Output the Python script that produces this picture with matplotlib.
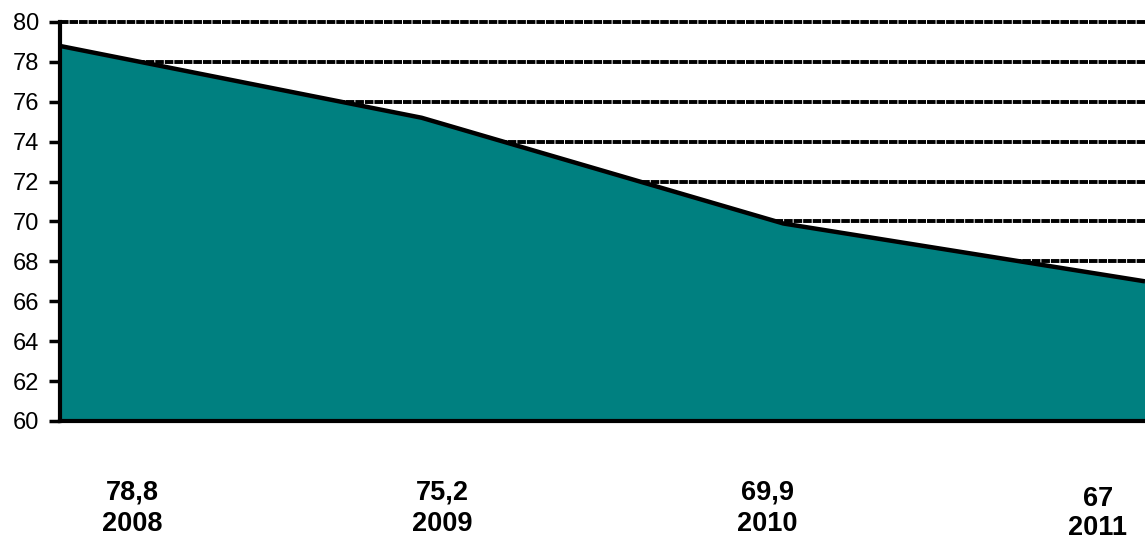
import matplotlib
matplotlib.use("Agg")
import matplotlib.pyplot as plt
from matplotlib.transforms import blended_transform_factory

years = ["2008", "2009", "2010", "2011"]
values = [78.8, 75.2, 69.9, 67.0]
value_labels = ["78,8", "75,2", "69,9", "67"]
y_ticks = list(range(60, 81, 2))

plt.rcParams["font.family"] = ["Liberation Sans", "DejaVu Sans"]

fig = plt.figure(figsize=(11.45, 5.41), dpi=100)
ax = fig.add_axes([60 / 1145, 1 - 421 / 541, 1 - 60 / 1145, (421 - 22) / 541])

x = list(range(len(years)))
ax.fill_between(x, values, 60, color="#008080", zorder=2, linewidth=0)
ax.plot(x, values, color="black", linewidth=3.2, zorder=3, solid_capstyle="butt")

ax.set_xlim(0, len(years) - 1)
ax.set_ylim(60, 80)
ax.set_yticks(y_ticks)
ax.set_xticks([])

for v in y_ticks[1:]:
    ax.axhline(v, color="black", linewidth=2.8, linestyle=(0, (2.2, 0.25)),
               zorder=1, clip_on=False)

for side in ("top", "right"):
    ax.spines[side].set_visible(False)
ax.spines["left"].set_linewidth(3)
ax.spines["bottom"].set_linewidth(3)
ax.spines["left"].set_zorder(4)
ax.spines["bottom"].set_zorder(4)
ax.tick_params(axis="y", direction="out", length=8, width=2.5, labelsize=17, pad=7)

# Category captions below the plot: value on top, year underneath
trans = blended_transform_factory(ax.transData, fig.transFigure)
label_x = [0.199, 1.056, 1.955, 2.870]
label_y_val = [1 - 493 / 541, 1 - 492 / 541, 1 - 492 / 541, 1 - 499 / 541]
label_y_year = [1 - 524 / 541, 1 - 524 / 541, 1 - 524 / 541, 1 - 528 / 541]
for lx, yv, yy, vl, yr in zip(label_x, label_y_val, label_y_year, value_labels, years):
    ax.text(lx, yv, vl, transform=trans, ha="center", va="center",
            fontsize=19.5, fontweight="bold", clip_on=False)
    ax.text(lx, yy, yr, transform=trans, ha="center", va="center",
            fontsize=19.5, fontweight="bold", clip_on=False)

fig.savefig("out.png", dpi=100)
